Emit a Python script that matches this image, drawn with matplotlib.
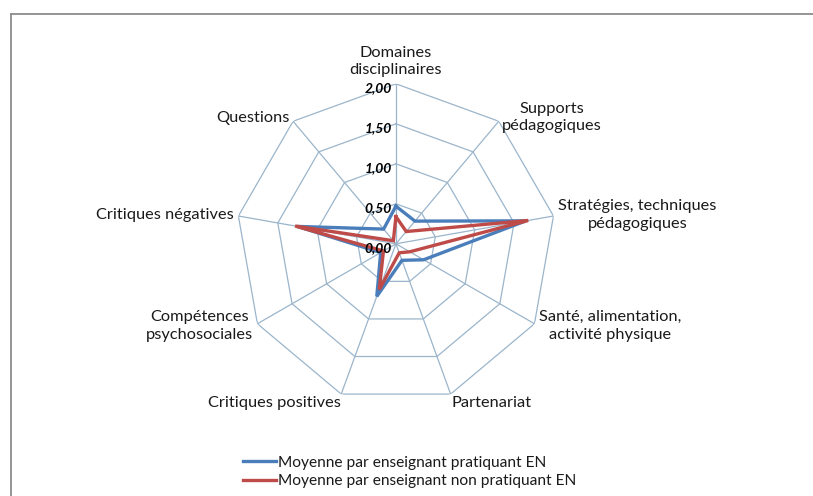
import numpy as np
import matplotlib
matplotlib.use('Agg')
import matplotlib.pyplot as plt
import matplotlib.transforms as mtransforms
from matplotlib.lines import Line2D

# axes of the radar, clockwise from the top
categories = ['Domaines\ndisciplinaires', 'Supports\npédagogiques',
              'Stratégies, techniques\npédagogiques',
              'Santé, alimentation,\nactivité physique', 'Partenariat',
              'Critiques positives', 'Compétences\npsychosociales',
              'Critiques négatives', 'Questions']
pratiquant = [0.47, 0.37, 1.65, 0.40, 0.22, 0.70, 0.22, 1.25, 0.24]
non_pratiquant = [0.34, 0.20, 1.68, 0.20, 0.12, 0.61, 0.18, 1.28, 0.05]
series_names = ['Moyenne par enseignant pratiquant EN',
                'Moyenne par enseignant non pratiquant EN']
r_ticks = [0.0, 0.5, 1.0, 1.5, 2.0]
r_labels = ['0,00', '0,50', '1,00', '1,50', '2,00']

plt.rcParams['font.family'] = ['Lato', 'DejaVu Sans']

blue = '#4A7EBB'
red = '#BE4B48'
grid_col = '#9BB5CB'
text_col = '#1a1a1a'

fig = plt.figure(figsize=(8.13, 4.96), dpi=100)
ax = fig.add_axes([0.290, 0.186, 0.394, 0.645], projection='polar')
ax.set_theta_offset(np.pi / 2)
ax.set_theta_direction(-1)
ax.set_ylim(0, 2)
ax.grid(False)
ax.spines['polar'].set_visible(False)
ax.set_xticks([])
ax.set_yticks([])
ax.patch.set_alpha(0)

n = len(categories)
theta = np.arange(n) * 2 * np.pi / n
theta_c = np.append(theta, theta[0])

# polygon grid and spokes
for r in r_ticks[1:]:
    ax.plot(theta_c, [r] * (n + 1), color=grid_col, lw=0.9, zorder=1)
for t in theta:
    ax.plot([t, t], [0, 2], color=grid_col, lw=0.9, zorder=1)

# series
for vals, col, name in [(pratiquant, blue, series_names[0]),
                        (non_pratiquant, red, series_names[1])]:
    v = np.append(vals, vals[0])
    ax.plot(theta_c, v, color=col, lw=2.4, label=name, zorder=3,
            solid_joinstyle='miter')

# radial tick labels left of the top spoke
off = mtransforms.offset_copy(ax.transData, fig=fig, x=-3, y=-3, units='points')
for r, lab in zip(r_ticks, r_labels):
    ax.text(0, r, lab, transform=off, ha='right', va='center', fontsize=10,
            fontweight='bold', fontstyle='italic', color='black', zorder=4)

# category labels around the outside
for t, lab in zip(theta, categories):
    s, c = np.sin(t), np.cos(t)
    if abs(s) < 0.1:
        ha = 'center'
    elif s > 0:
        ha = 'left'
    else:
        ha = 'right'
    if c > 0.9:
        va = 'bottom'
    elif c < -0.9:
        va = 'top'
    else:
        va = 'center'
    r = 2.06
    if va == 'bottom':
        r = 2.08
    if va == 'top':
        r = 2.03
    ax.text(t, r, lab, ha=ha, va=va, fontsize=11.8, color=text_col,
            linespacing=1.35, multialignment='center')

# legend
fig.legend(loc='lower left', bbox_to_anchor=(0.282, -0.012), frameon=False,
           fontsize=11.2, handlelength=2.1, handletextpad=0.15,
           labelspacing=0.28, labelcolor=text_col)

# chart frame
fig.add_artist(Line2D([0.0135, 1.0], [0.972, 0.972], color='#8C8C8C', lw=1.3,
                      transform=fig.transFigure))
fig.add_artist(Line2D([0.0135, 0.0135], [0.0, 0.972], color='#8C8C8C', lw=1.3,
                      transform=fig.transFigure))

fig.savefig('out.png', dpi=100)
